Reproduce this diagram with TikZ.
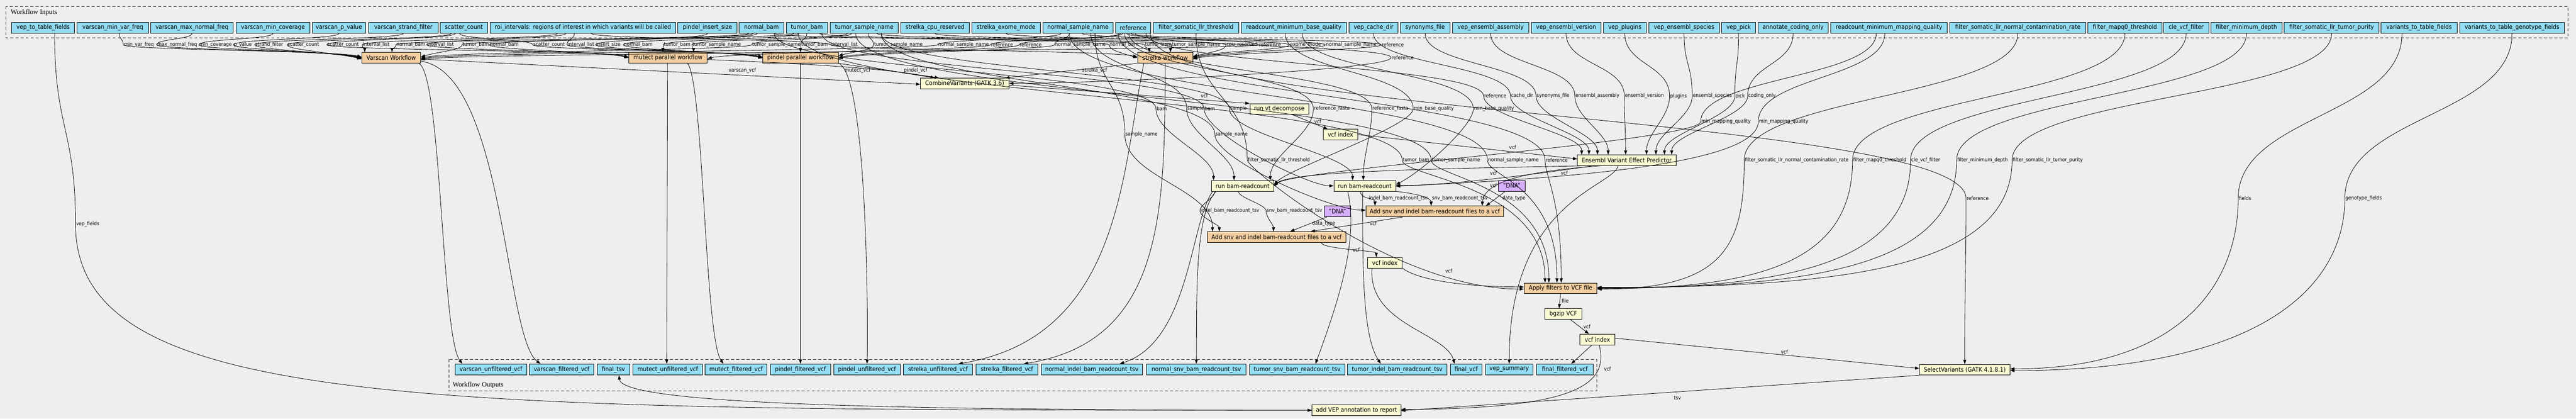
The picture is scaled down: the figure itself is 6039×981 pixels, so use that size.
\documentclass[tikz,border=0pt]{standalone}
\usepackage{fontspec}
\setmainfont{DejaVu Sans}[FakeStretch=0.9]
\newfontfamily\clfont{Liberation Serif}
\usetikzlibrary{arrows.meta}
\definecolor{bgc}{HTML}{EEEEEE}
\definecolor{ioc}{HTML}{94DDF4}
\definecolor{wfc}{HTML}{F3CEA1}
\definecolor{stc}{HTML}{FAFAD2}
\definecolor{dvc}{HTML}{D5AEFC}
\tikzset{
 box/.style={draw=black, line width=1pt, inner sep=0pt, font=\fontsize{14.5}{16}\selectfont, text=black},
 io/.style={box, fill=ioc},
 wf/.style={box, fill=wfc},
 stp/.style={box, fill=stc},
 dv/.style={box, fill=dvc},
 e/.style={draw=black, line width=1pt, -{Triangle[length=10pt,width=7pt]}},
 lbl/.style={anchor=west, inner sep=1pt, text=black, font=\fontsize{12}{12}\selectfont},
 cluster/.style={draw=black!85, line width=1.2pt, dash pattern=on 7pt off 5pt},
 clab/.style={anchor=west, inner sep=0pt, text=black, font=\clfont\fontsize{16}{16}\selectfont},
}
\newcommand\mknode[7]{%
  \pgfmathsetmacro\nodew{#4-#3}%
  \pgfmathsetmacro\nodeh{#6-#5}%
  \pgfmathsetmacro\nodex{(#3+#4)/2}%
  \pgfmathsetmacro\nodey{-(#5+#6)/2}%
  \node[#2, minimum width=\nodew pt, minimum height=\nodeh pt] (#1) at (\nodex,\nodey) {#7};}
\newcommand\innode[4]{\mknode{#1}{io}{#2}{#3}{52}{78}{#4}}
\newcommand\outnode[4]{\mknode{#1}{io}{#2}{#3}{853}{879}{#4}}
\newcommand\viaedge[8]{\draw[e] (#1) .. controls +(0,-#6) and +(0,#6) .. (#2-3,-#3) node[lbl]{#4} .. controls +(0,-#7) and +(#8) .. (#5);}
\newcommand\inedge[7]{\pgfmathsetmacro\kka{(#3-78)*0.5}\viaedge{#1}{#2}{#3}{#4}{#5}{\kka}{#6}{#7}}
\begin{document}
\begin{tikzpicture}[x=1pt,y=1pt]
\fill[bgc] (0,0) rectangle (6039,-981);
\useasboundingbox (0,0) rectangle (6039,-981);
% clusters
\draw[cluster] (14,-15) rectangle (6020,-89);
\node[clab] (tin) at (25,-29) {Workflow Inputs};
\draw[cluster] (1053,-842) rectangle (3743,-916);
\node[clab] (tout) at (1061,-903) {Workflow Outputs};
% inputs
\innode{in1}{27}{175}{vep\_to\_table\_fields}
\innode{in2}{181}{348}{varscan\_min\_var\_freq}
\innode{in3}{353}{547}{varscan\_max\_normal\_freq}
\innode{in4}{554}{726}{varscan\_min\_coverage}
\innode{in5}{732}{857}{varscan\_p\_value}
\innode{in6}{864}{1027}{varscan\_strand\_filter}
\innode{in7}{1032}{1143}{scatter\_count}
\innode{in8}{1149}{1584}{roi\_intervals: regions of interest in which variants will be called}
\innode{in9}{1589}{1728}{pindel\_insert\_size}
\innode{in10}{1733}{1837}{normal\_bam}
\innode{in11}{1843}{1940}{tumor\_bam}
\innode{in12}{1946}{2106}{tumor\_sample\_name}
\innode{in13}{2112}{2272}{strelka\_cpu\_reserved}
\innode{in14}{2278}{2439}{strelka\_exome\_mode}
\innode{in15}{2445}{2609}{normal\_sample\_name}
\innode{in16}{2615}{2698}{reference}
\innode{in17}{2704}{2904}{filter\_somatic\_llr\_threshold}
\innode{in18}{2910}{3156}{readcount\_minimum\_base\_quality}
\innode{in19}{3163}{3277}{vep\_cache\_dir}
\innode{in20}{3283}{3399}{synonyms\_file}
\innode{in21}{3405}{3584}{vep\_ensembl\_assembly}
\innode{in22}{3590}{3753}{vep\_ensembl\_version}
\innode{in23}{3759}{3859}{vep\_plugins}
\innode{in24}{3865}{4031}{vep\_ensembl\_species}
\innode{in25}{4036}{4116}{vep\_pick}
\innode{in26}{4121}{4286}{annotate\_coding\_only}
\innode{in27}{4292}{4565}{readcount\_minimum\_mapping\_quality}
\innode{in28}{4571}{4890}{filter\_somatic\_llr\_normal\_contamination\_rate}
\innode{in29}{4895}{5068}{filter\_mapq0\_threshold}
\innode{in30}{5072}{5178}{cle\_vcf\_filter}
\innode{in31}{5183}{5350}{filter\_minimum\_depth}
\innode{in32}{5355}{5577}{filter\_somatic\_llr\_tumor\_purity}
\innode{in33}{5582}{5760}{variants\_to\_table\_fields}
\innode{in34}{5766}{6012}{variants\_to\_table\_genotype\_fields}
% steps
\mknode{varscan}{wf}{848}{986}{123}{148}{Varscan Workflow}
\mknode{mutect}{wf}{1474}{1658}{123}{148}{mutect parallel workflow}
\mknode{pindel}{wf}{1788}{1965}{123}{148}{pindel parallel workflow}
\mknode{strelka}{wf}{2667}{2796}{123}{148}{strelka workflow}
\mknode{combine}{stp}{2158}{2365}{183}{208}{CombineVariants (GATK 3.6)}
\mknode{decompose}{stp}{2930}{3068}{243}{268}{run vt decompose}
\mknode{dindex}{stp}{3102}{3183}{303}{328}{vcf index}
\mknode{vep}{stp}{3698}{3929}{363}{388}{Ensembl Variant Effect Predictor}
\mknode{rc1}{stp}{2840}{2986}{423}{448}{run bam-readcount}
\mknode{rc2}{stp}{3127}{3272}{423}{448}{run bam-readcount}
\mknode{dna1}{dv}{3513}{3575}{423}{448}{"DNA"}
\mknode{addT}{wf}{3202}{3525}{483}{508}{Add snv and indel bam-readcount files to a vcf}
\mknode{dna2}{dv}{3105}{3166}{483}{508}{"DNA"}
\mknode{addN}{wf}{2830}{3155}{543}{568}{Add snv and indel bam-readcount files to a vcf}
\mknode{index}{stp}{3206}{3287}{603}{628}{vcf index}
\mknode{filter}{wf}{3573}{3744}{663}{688}{Apply filters to VCF file}
\mknode{bgzip}{stp}{3622}{3708}{723}{748}{bgzip VCF}
\mknode{index3}{stp}{3704}{3786}{783}{808}{vcf index}
\mknode{selvar}{stp}{4500}{4712}{854}{879}{SelectVariants (GATK 4.1.8.1)}
\mknode{addvep}{stp}{3076}{3284}{949}{974}{add VEP annotation to report}
% outputs
\outnode{o1}{1067}{1235}{varscan\_unfiltered\_vcf}
\outnode{o2}{1241}{1392}{varscan\_filtered\_vcf}
\outnode{o3}{1400}{1476}{final\_tsv}
\outnode{o4}{1484}{1647}{mutect\_unfiltered\_vcf}
\outnode{o5}{1653}{1798}{mutect\_filtered\_vcf}
\outnode{o6}{1806}{1947}{pindel\_filtered\_vcf}
\outnode{o7}{1955}{2110}{pindel\_unfiltered\_vcf}
\outnode{o8}{2118}{2280}{strelka\_unfiltered\_vcf}
\outnode{o9}{2288}{2433}{strelka\_filtered\_vcf}
\outnode{o10}{2441}{2678}{normal\_indel\_bam\_readcount\_tsv}
\outnode{o11}{2688}{2921}{normal\_snv\_bam\_readcount\_tsv}
\outnode{o12}{2929}{3153}{tumor\_snv\_bam\_readcount\_tsv}
\outnode{o13}{3159}{3392}{tumor\_indel\_bam\_readcount\_tsv}
\outnode{o14}{3400}{3474}{final\_vcf}
\outnode{o15}{3482}{3594}{vep\_summary}
\outnode{o16}{3602}{3735}{final\_filtered\_vcf}
% ---- input edges to the four workflows
\inedge{[xshift=15pt]in2.south}{292}{105}{min\_var\_freq}{[yshift=2pt]varscan.west}{12}{-60,15}
\inedge{in3.south}{370}{105}{max\_normal\_freq}{[yshift=1pt]varscan.west}{12}{-60,15}
\inedge{in4.south}{469}{105}{min\_coverage}{varscan.west}{12}{-60,15}
\inedge{in5.south}{550}{105}{p\_value}{[yshift=-1pt]varscan.west}{12}{-60,15}
\inedge{in6.south}{600}{105}{strand\_filter}{[yshift=-2pt]varscan.west}{12}{-60,15}
\inedge{[xshift=-30pt]in7.south}{676}{105}{scatter\_count}{[yshift=-3pt]varscan.west}{12}{-60,15}
\inedge{[xshift=-20pt]in7.south}{769}{105}{scatter\_count}{[yshift=2pt]mutect.west}{12}{-60,15}
\inedge{[xshift=-60pt]in8.south}{852}{105}{interval\_list}{[xshift=-62pt]varscan.north}{8}{0,8}
\inedge{[xshift=-30pt]in10.south}{931}{105}{normal\_bam}{[xshift=2pt]varscan.north}{8}{0,8}
\inedge{[xshift=-40pt]in8.south}{1003}{105}{interval\_list}{[yshift=1pt]mutect.west}{12}{-60,15}
\inedge{[xshift=-30pt]in11.south}{1086}{105}{tumor\_bam}{[yshift=2pt]varscan.east}{12}{40,12}
\inedge{[xshift=-20pt]in10.south}{1150}{105}{normal\_bam}{mutect.west}{12}{-60,15}
\inedge{[xshift=-10pt]in7.south}{1252}{105}{scatter\_count}{[yshift=2pt]pindel.west}{12}{-60,15}
\inedge{[xshift=-20pt]in8.south}{1332}{105}{interval\_list}{[yshift=1pt]pindel.west}{12}{-60,15}
\inedge{in9.south}{1399}{105}{insert\_size}{pindel.west}{12}{-60,15}
\inedge{[xshift=-10pt]in10.south}{1464}{105}{normal\_bam}{[yshift=-1pt]pindel.west}{12}{-60,15}
\inedge{[xshift=-20pt]in11.south}{1558}{105}{tumor\_bam}{[xshift=-12pt]mutect.north}{8}{0,8}
\inedge{[xshift=-40pt]in12.south}{1625}{105}{tumor\_sample\_name}{[xshift=60pt]mutect.north}{8}{0,8}
\inedge{[xshift=-30pt]in12.south}{1765}{105}{tumor\_sample\_name}{[yshift=-1pt]varscan.east}{12}{60,15}
\inedge{in11.south}{1880}{105}{tumor\_bam}{pindel.north}{8}{0,8}
\inedge{[xshift=20pt]in8.south}{1950}{105}{interval\_list}{[yshift=2pt]strelka.west}{12}{-60,15}
\inedge{[xshift=10pt]in12.south}{2051}{105}{tumor\_sample\_name}{[yshift=5pt]pindel.east}{12}{40,10}
\inedge{[xshift=-40pt]in15.south}{2201}{105}{normal\_sample\_name}{[yshift=-3pt]varscan.east}{12}{60,15}
\inedge{[xshift=-30pt]in16.south}{2325}{105}{reference}{[yshift=-2pt]mutect.east}{12}{60,15}
\inedge{[xshift=-25pt]in16.south}{2392}{105}{reference}{pindel.east}{12}{60,15}
\inedge{[xshift=-20pt]in15.south}{2475}{105}{normal\_sample\_name}{[yshift=-2pt]pindel.east}{12}{60,15}
\inedge{[xshift=30pt]in10.south}{2603}{105}{normal\_bam}{strelka.west}{12}{-40,12}
\inedge{[xshift=30pt]in11.south}{2686}{105}{tumor\_bam}{[xshift=-37.5pt]strelka.north}{8}{0,8}
\inedge{[xshift=30pt]in12.south}{2749}{105}{tumor\_sample\_name}{[xshift=12.5pt]strelka.north}{8}{0,8}
\inedge{in13.south}{2877}{105}{cpu\_reserved}{[yshift=3pt]strelka.east}{12}{50,12}
\inedge{[xshift=-15pt]in16.south}{2953}{105}{reference}{[yshift=-5pt]varscan.east}{12}{60,15}
\inedge{in14.south}{3026}{105}{exome\_mode}{[yshift=1pt]strelka.east}{12}{60,15}
\inedge{[xshift=10pt]in15.south}{3110}{105}{normal\_sample\_name}{[yshift=-1pt]strelka.east}{12}{60,15}
\inedge{[xshift=-5pt]in16.south}{3241}{105}{reference}{[yshift=-3pt]strelka.east}{12}{60,15}
\inedge{[xshift=5pt]in16.south}{3264}{135}{reference}{combine.east}{30}{200,0}
% ---- workflows to CombineVariants
\draw[e] ([yshift=-3pt]varscan.east) -- ([yshift=-2pt]combine.west);
\node[lbl] (lvs) at (1707,-165) {varscan\_vcf};
\draw[e] ([yshift=-4pt]mutect.east) .. controls (1900,-150) and (2080,-160) .. ([xshift=-70pt]combine.north);
\node[lbl] (lmu) at (1979,-165) {mutect\_vcf};
\draw[e] (pindel.south east) -- ([xshift=-60pt]combine.north);
\node[lbl] (lpi) at (2118,-165) {pindel\_vcf};
\draw[e] (strelka.south west) -- ([xshift=95pt]combine.north);
\node[lbl] (lst) at (2536,-165) {strelka\_vcf};
% ---- main chain
\draw[e] ([yshift=-4pt]combine.east) -- (decompose.north west);
\node[lbl] (lc1) at (2814,-225) {vcf};
\draw[e] ([xshift=30pt]decompose.south) -- ([xshift=-30pt]dindex.north);
\node[lbl] (lc2) at (3080,-285) {vcf};
\draw[e] (dindex.east) -- ([yshift=3pt]vep.west);
\node[lbl] (lc3) at (3537,-345) {vcf};
% VEP inputs
\inedge{[xshift=30pt]in16.south}{3481}{225}{reference}{[xshift=-105.5pt]vep.north}{50}{0,50}
\inedge{in19.south}{3544}{225}{cache\_dir}{[xshift=-88.5pt]vep.north}{50}{0,50}
\inedge{in20.south}{3604}{225}{synonyms\_file}{[xshift=-68.5pt]vep.north}{50}{0,50}
\inedge{in21.south}{3695}{225}{ensembl\_assembly}{[xshift=-43.5pt]vep.north}{50}{0,50}
\inedge{in22.south}{3811}{225}{ensembl\_version}{[xshift=-2.5pt]vep.north}{50}{0,50}
\inedge{in23.south}{3917}{225}{plugins}{[xshift=46.5pt]vep.north}{50}{0,50}
\inedge{in24.south}{3970}{225}{ensembl\_species}{[xshift=68.5pt]vep.north}{50}{0,50}
\inedge{in25.south}{4070}{225}{pick}{[xshift=88.5pt]vep.north}{50}{0,50}
\inedge{in26.south}{4100}{225}{coding\_only}{[xshift=105.5pt]vep.north}{50}{0,50}
% readcount inputs
\inedge{[xshift=30pt]in10.south}{2713}{255}{bam}{[xshift=-68pt]rc1.north}{60}{0,60}
\inedge{[xshift=30pt]in15.south}{2785}{255}{sample}{[xshift=-20pt]rc1.north}{60}{0,60}
\inedge{[xshift=35pt]in11.south}{2826}{255}{bam}{rc2.west}{60}{-60,0}
\inedge{[xshift=40pt]in12.south}{2885}{255}{sample}{[xshift=-28.5pt]rc2.north}{60}{0,60}
\inedge{[xshift=-20pt]in16.south}{3082}{255}{reference\_fasta}{[xshift=65pt]rc1.north}{60}{0,60}
\inedge{[xshift=-10pt]in16.south}{3219}{255}{reference\_fasta}{[xshift=-3.5pt]rc2.north}{60}{0,60}
\inedge{[xshift=-20pt]in18.south}{3316}{255}{min\_base\_quality}{[yshift=3pt]rc1.east}{40}{40,40}
\inedge{[xshift=20pt]in18.south}{3457}{255}{min\_base\_quality}{[yshift=3pt]rc2.east}{40}{60,30}
\inedge{[xshift=-30pt]in27.south}{3990}{285}{min\_mapping\_quality}{[yshift=-1pt]rc1.east}{45}{40,40}
\inedge{[xshift=-10pt]in27.south}{4125}{285}{min\_mapping\_quality}{[yshift=-1pt]rc2.east}{100}{400,18}
% VEP outputs
\draw[e] ([xshift=-100pt]vep.south) .. controls (3400,-395) and (3030,-400) .. ([yshift=1pt]rc1.east);
\node[lbl] (lv1) at (3492,-405) {vcf};
\draw[e] ([xshift=-80pt]vep.south) .. controls (3660,-400) and (3400,-436) .. ([yshift=1pt]rc2.east);
\node[lbl] (lv2) at (3658,-405) {vcf};
\draw[e] ([xshift=-60pt]vep.south) .. controls (3600,-400) and (3480,-420) .. ([xshift=111pt]addT.north);
\node[lbl] (lv3) at (3492,-435) {vcf};
% readcount to add
\draw[e] ([xshift=-10pt]rc2.south) .. controls +(0,-20) and +(0,20) .. ([xshift=-140pt]addT.north);
\node[lbl] (lr1) at (3208,-465) {indel\_bam\_readcount\_tsv};
\draw[e] (rc2.south east) .. controls (3330,-455) and (3355,-465) .. ([xshift=-8.5pt]addT.north);
\node[lbl] (lr2) at (3356,-465) {snv\_bam\_readcount\_tsv};
\draw[e] ([xshift=-15pt]dna1.south) -- ([xshift=120pt]addT.north);
\node[lbl] (lr3) at (3521,-465) {data\_type};
\viaedge{[xshift=-65pt]rc1.south}{2816}{494}{indel\_bam\_readcount\_tsv}{[xshift=-134pt]addN.north}{15}{15}{0,15}
\viaedge{[xshift=-10pt]rc1.south}{2971}{494}{snv\_bam\_readcount\_tsv}{[xshift=-7pt]addN.north}{15}{15}{0,15}
\draw[e] ([xshift=-25pt]dna2.south) -- ([xshift=32pt]addN.north);
\node[lbl] (lr4) at (3075,-524) {data\_type};
\draw[e] ([xshift=-75pt]addT.south) -- ([xshift=80pt]addN.north);
\node[lbl] (lr5) at (3210,-524) {vcf};
\inedge{[xshift=40pt]in12.south}{2851}{315}{sample\_name}{[yshift=3pt]addT.west}{60}{-80,0}
\inedge{[xshift=40pt]in15.south}{2640}{315}{sample\_name}{[xshift=-150pt]addN.north}{100}{0,100}
% add -> index -> filter
\draw[e] ([xshift=105pt]addN.south) .. controls +(0,-15) and +(0,15) .. ([xshift=-20pt]index.north);
\node[lbl] (li1) at (3170,-585) {vcf};
\draw[e] (index.south east) .. controls (3330,-660) and (3450,-672) .. ([yshift=3pt]filter.west);
\node[lbl] (li2) at (3387,-635) {vcf};
% filter inputs
\inedge{in17.south}{2927}{375}{filter\_somatic\_llr\_threshold}{[yshift=-2pt]filter.west}{20}{-300,0}
\inedge{[xshift=-20pt]in11.south}{3290}{375}{tumor\_bam}{[xshift=-36.5pt]filter.north}{40}{0,230}
\inedge{[xshift=-20pt]in12.south}{3358}{375}{tumor\_sample\_name}{[xshift=-27.5pt]filter.north}{40}{0,230}
\inedge{[xshift=-20pt]in15.south}{3490}{375}{normal\_sample\_name}{[xshift=-8.5pt]filter.north}{40}{0,230}
\inedge{[xshift=-35pt]in16.south}{3625}{375}{reference}{[xshift=1.5pt]filter.north}{40}{0,200}
\inedge{in28.south}{4092}{375}{filter\_somatic\_llr\_normal\_contamination\_rate}{[yshift=-2pt]filter.east}{200}{300,0}
\inedge{in29.south}{4346}{375}{filter\_mapq0\_threshold}{[yshift=-1pt]filter.east}{230}{400,0}
\inedge{in30.south}{4482}{375}{cle\_vcf\_filter}{filter.east}{240}{450,0}
\inedge{in31.south}{4590}{375}{filter\_minimum\_depth}{[yshift=1pt]filter.east}{250}{500,0}
\inedge{in32.south}{4720}{375}{filter\_somatic\_llr\_tumor\_purity}{[yshift=2pt]filter.east}{260}{550,0}
% tail
\draw[e] (filter.south) -- ([xshift=-10pt]bgzip.north);
\node[lbl] (lt1) at (3660,-705) {file};
\draw[e] ([xshift=16pt]bgzip.south) -- ([xshift=-20pt]index3.north);
\node[lbl] (lt2) at (3711,-765) {vcf};
\draw[e] ([xshift=-13pt]index3.south) -- ([xshift=15pt]o16.north);
\draw[e] ([yshift=3pt]index3.east) -- ([yshift=3pt]selvar.west);
\node[lbl] (lt3) at (4174,-825) {vcf};
\draw[e] ([xshift=4pt]index3.south) .. controls (3772,-900) and (3700,-958) .. ([yshift=2pt]addvep.east);
\node[lbl] (lt4) at (3759,-865) {vcf};
\draw[e] (selvar.south west) -- ([yshift=-1pt]addvep.east);
\node[lbl] (lt5) at (3923,-932) {tsv};
\inedge{[xshift=40pt]in16.south}{4612}{465}{reference}{selvar.north}{150}{0,200}
\inedge{[xshift=-40pt]in33.south}{5250}{465}{fields}{[yshift=2pt]selvar.east}{200}{400,0}
\inedge{in34.south}{5500}{465}{genotype\_fields}{[yshift=-2pt]selvar.east}{200}{600,0}
\inedge{[xshift=27pt]in1.south}{180}{525}{vep\_fields}{addvep.west}{435}{-2076,0}
\draw[e] (addvep.west) .. controls (2200,-961) and (1460,-952) .. ([xshift=13pt]o3.south);
% outputs of steps
\draw[e] ([xshift=-5pt]varscan.south east) .. controls (1035,-170) and (1035,-790) .. ([xshift=-67pt]o1.north);
\draw[e] ([yshift=-8pt]varscan.east) .. controls (1183,-170) and (1183,-790) .. ([xshift=-49.5pt]o2.north);
\draw[e] ([xshift=-1pt]mutect.south) -- ([xshift=-2.5pt]o4.north);
\draw[e] ([xshift=46pt]mutect.south) .. controls (1650,-200) and (1652,-790) .. ([xshift=-29.5pt]o5.north);
\draw[e] (pindel.south) -- (o6.north);
\draw[e] (pindel.south east) .. controls (2035,-170) and (2035,-790) .. (o7.north);
\draw[e] ([xshift=-50pt]strelka.south) .. controls (2630,-400) and (2630,-790) .. ([xshift=48pt]o8.north);
\draw[e] (strelka.south) .. controls (2731,-500) and (2727,-800) .. ([xshift=39.5pt]o9.north);
\draw[e] ([xshift=-70pt]rc1.south) .. controls (2790,-520) and (2790,-800) .. ([xshift=65.5pt]o10.north);
\draw[e] ([xshift=-62pt]rc1.south) .. controls (2800,-500) and (2806,-700) .. (o11.north);
\draw[e] ([xshift=-40pt]rc2.south) .. controls (3185,-560) and (3140,-700) .. ([xshift=43pt]o12.north);
\draw[e] ([xshift=-5pt]rc2.south) .. controls (3194,-650) and (3196,-790) .. ([xshift=-38.5pt]o13.north);
\draw[e] ([xshift=-30pt]index.south) .. controls (3206,-760) and (3390,-780) .. ([xshift=-27pt]o14.north);
\draw[e] ([xshift=-20pt]vep.south) .. controls (3780,-440) and (3538,-470) .. (o15.north);
\end{tikzpicture}
\end{document}
